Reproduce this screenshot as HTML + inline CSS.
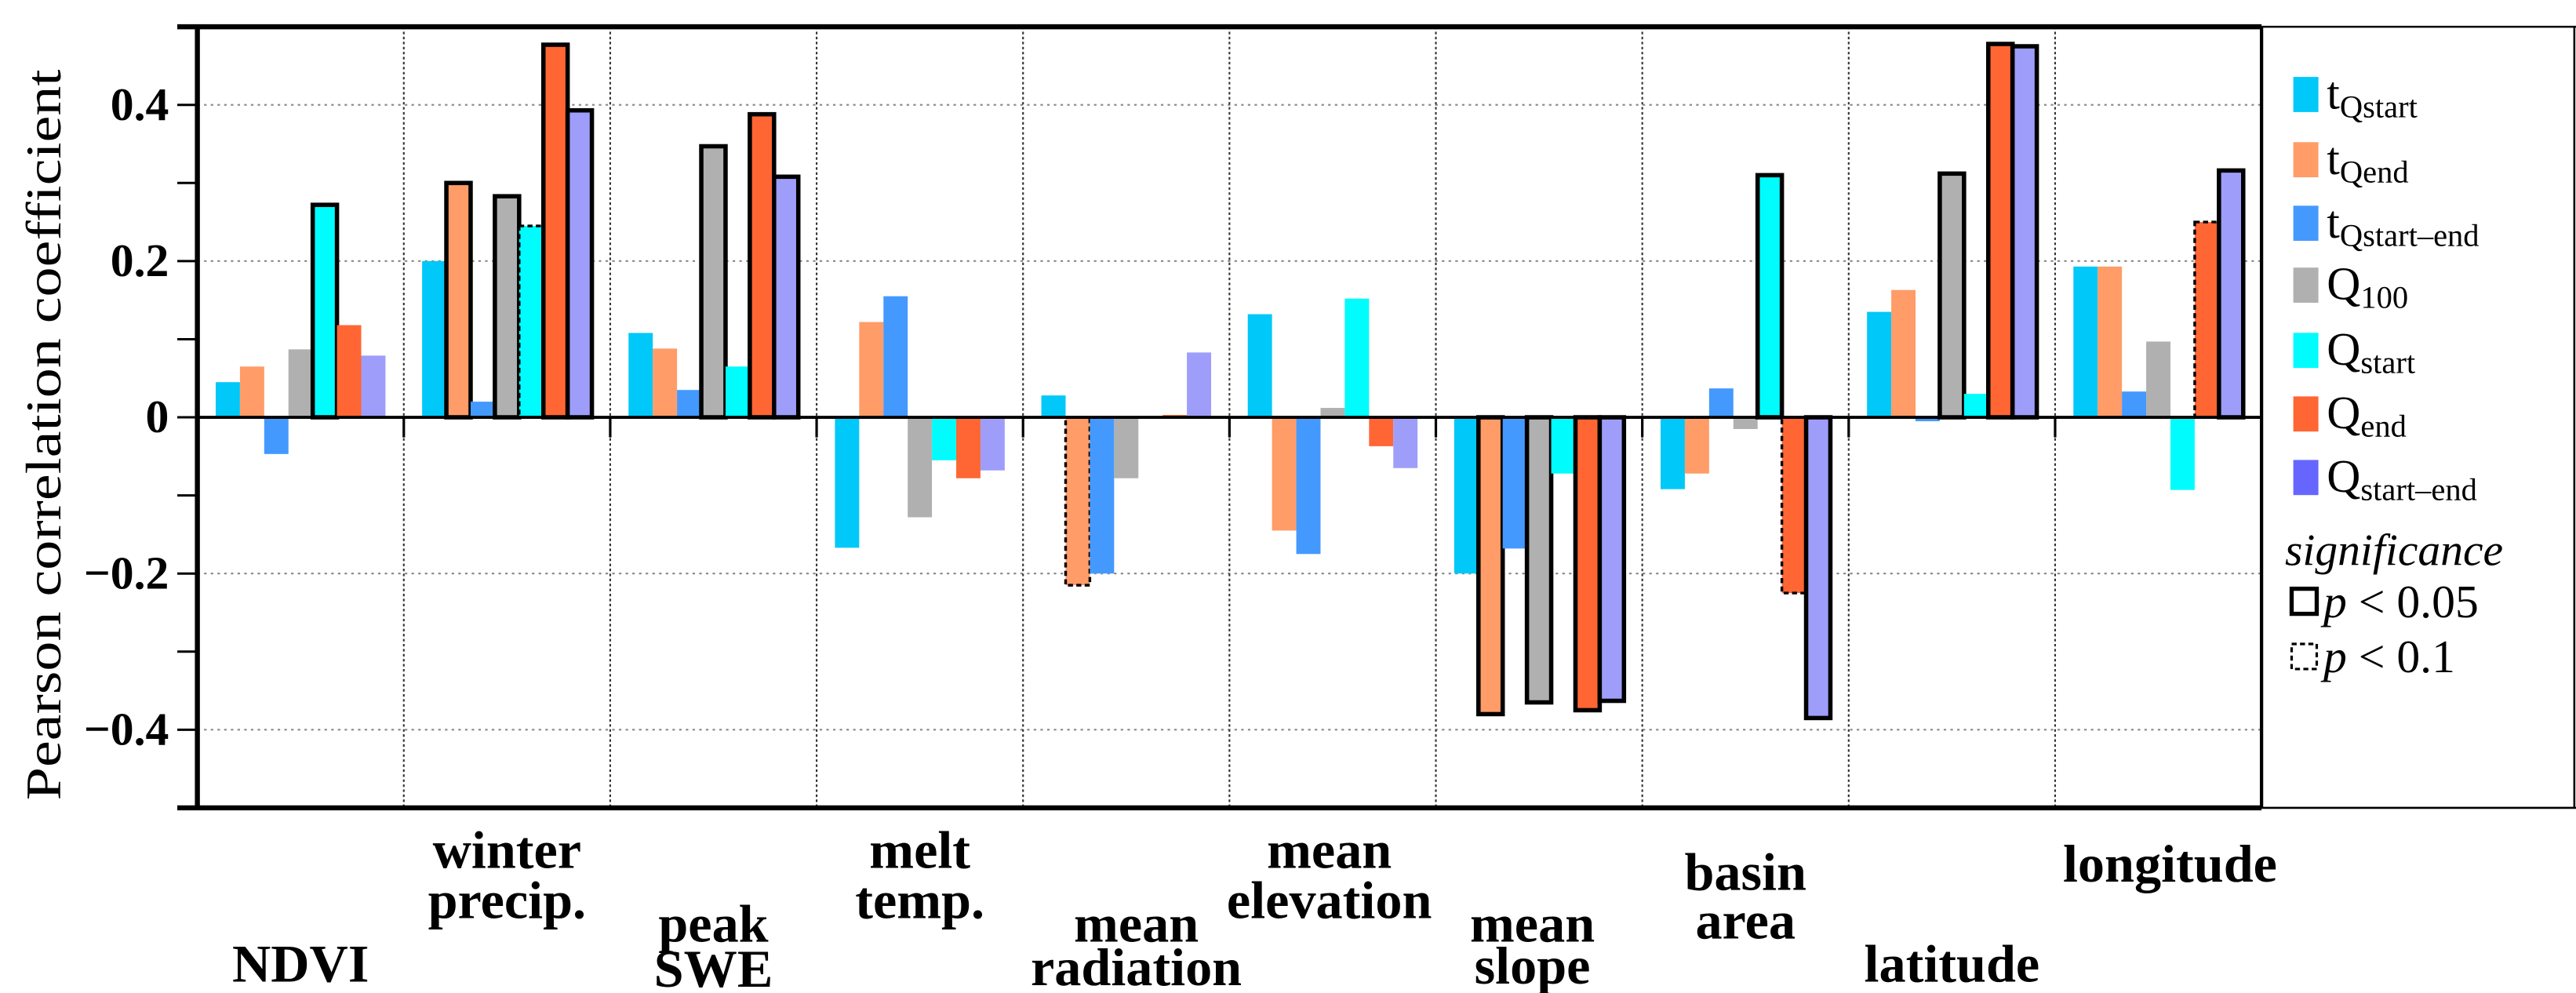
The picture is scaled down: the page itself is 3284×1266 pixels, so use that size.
<!DOCTYPE html>
<html><head><meta charset="utf-8"><style>
html,body{margin:0;padding:0;background:#fff;}
svg{display:block;}
text{font-family:"Liberation Serif",serif;}
</style></head><body>
<svg id="chart" width="3284" height="1266" viewBox="0 0 1540 593.7" preserveAspectRatio="none" xmlns="http://www.w3.org/2000/svg">
<g id="grid"></g>
<g id="bars"></g>
<g id="axes"></g>
<g id="labels"></g>
<g id="legend"></g>
</svg>
<script>
const categories = ["NDVI","winter precip.","peak SWE","melt temp.","mean radiation","mean elevation","mean slope","basin area","latitude","longitude"];
const seriesNames = ["tQstart","tQend","tQstart-end","Q100","Qstart","Qend","Qstart-end"];
const tQstart   = [0.045,0.200,0.108,-0.167,0.028,0.132,-0.200,-0.092,0.135,0.193];
const tQend     = [0.065,0.300,0.088,0.122,-0.215,-0.145,-0.380,-0.072,0.163,0.193];
const tQse      = [-0.047,0.020,0.035,0.155,-0.200,-0.175,-0.168,0.037,-0.005,0.033];
const Q100      = [0.087,0.283,0.347,-0.128,-0.078,0.012,-0.365,-0.015,0.312,0.097];
const Qstart    = [0.272,0.245,0.065,-0.055,-0.002,0.152,-0.072,0.310,0.030,-0.093];
const Qend      = [0.118,0.477,0.388,-0.078,0.003,-0.037,-0.375,-0.225,0.478,0.250];
const Qse       = [0.079,0.393,0.308,-0.068,0.083,-0.065,-0.363,-0.385,0.475,0.316];
// significance: 2 = p<0.05, 1 = p<0.1, 0 = none
const sig_tQstart = [0,0,0,0,0,0,0,0,0,0];
const sig_tQend   = [0,2,0,0,1,0,2,0,0,0];
const sig_tQse    = [0,0,0,0,0,0,0,0,0,0];
const sig_Q100    = [0,2,2,0,0,0,2,0,2,0];
const sig_Qstart  = [2,1,0,0,0,0,0,2,0,0];
const sig_Qend    = [0,2,2,0,0,0,2,1,2,1];
const sig_Qse     = [0,2,2,0,0,0,2,2,2,2];
const yTicks = [0.4,0.2,0,-0.2,-0.4];
const yTickLabels = ["0.4","0.2","0","\u22120.2","\u22120.4"];

const series = [tQstart,tQend,tQse,Q100,Qstart,Qend,Qse];
const sigs = [sig_tQstart,sig_tQend,sig_tQse,sig_Q100,sig_Qstart,sig_Qend,sig_Qse];
const colors = ["#00c8f8","#ff9c68","#4499ff","#b0b0b0","#00fcfc","#ff6633","#9e9efa"];
const legendColors = ["#00c8f8","#ff9c68","#4499ff","#b0b0b0","#00fcfc","#ff6633","#6666ff"];
const NS="http://www.w3.org/2000/svg";
const L=118,R=1352,T=16,B=483,YMAX=0.5,YMIN=-0.5;
function y(v){return T+(YMAX-v)/(YMAX-YMIN)*(B-T);}
const gw=(R-L)/categories.length;
function gx(i){return L+i*gw;}
function mk(tag,attrs,parent){const e=document.createElementNS(NS,tag);for(const k in attrs)e.setAttribute(k,attrs[k]);parent.appendChild(e);return e;}
const grid=document.getElementById('grid'),bars=document.getElementById('bars'),axes=document.getElementById('axes'),labels=document.getElementById('labels'),legend=document.getElementById('legend');

// grid
yTicks.forEach(v=>{if(v!==0){const l=mk('line',{x1:L,x2:R,y1:y(v),y2:y(v),stroke:'#888','stroke-width':1,'stroke-dasharray':'1.5,2.5'},grid);

}});
for(let i=1;i<categories.length;i++){const l=mk('line',{x1:gx(i),x2:gx(i),y1:T,y2:B,stroke:'#333','stroke-width':1,'stroke-dasharray':'1.5,1.5'},grid);

}

// bars
const bw=14.5, off=(gw-bw*7)/2;
categories.forEach((c,i)=>{series.forEach((s,k)=>{
  const v=s[i], x=gx(i)+off+k*bw, y0=y(0), y1=y(v);
  const r=mk('rect',{x:x,y:Math.min(y0,y1),width:bw,height:Math.max(0.8,Math.abs(y1-y0)),fill:colors[k]},bars);
  
  
  const sg=sigs[k][i];
  if(sg>0){r.setAttribute('stroke','#000');r.setAttribute('stroke-width',sg===2?2.6:1.6);if(sg===1)r.setAttribute('stroke-dasharray','3,2');}
});});

// axes
const zl=mk('line',{x1:L,x2:R,y1:y(0),y2:y(0),stroke:'#000','stroke-width':1.8},axes);


const frame=[[L-12,T,R,T,3],[L-12,B,R,B,3],[L,T,L,B,3],[R,T,R,B,2],[R,T,1540,T,1.2],[R,B,1540,B,1.2],[1539,T,1539,B,1.2]];
frame.forEach(f=>{const l=mk('line',{x1:f[0],y1:f[1],x2:f[2],y2:f[3],stroke:'#000','stroke-width':f[4]},axes);

});
for(let v=-0.4;v<=0.4001;v+=0.1){const l=mk('line',{x1:L-12,x2:L,y1:y(v),y2:y(v),stroke:'#000','stroke-width':1.4},axes);

}
for(let i=1;i<categories.length;i++){const l=mk('line',{x1:gx(i),x2:gx(i),y1:y(0),y2:y(0)+12,stroke:'#000','stroke-width':1.5},axes);

}
yTicks.forEach((v,i)=>{const t=mk('text',{x:101,y:y(v)+9,'text-anchor':'end','font-size':28,'font-weight':'bold'},axes);t.textContent=yTickLabels[i];

});
const yt=mk('text',{x:0,y:0,'text-anchor':'middle','font-size':30,textLength:437,lengthAdjust:'spacingAndGlyphs',transform:'translate(36,260) rotate(-90)'},axes);yt.textContent='Pearson correlation coefficient';



// category labels
const labLines=[["NDVI"],["winter","precip."],["peak","SWE"],["melt","temp."],["mean","radiation"],["mean","elevation"],["mean","slope"],["basin","area"],["latitude"],["longitude"]];
const labY=[[587],[519,549],[563,590],[519,549],[563,589],[519,549],[563,588],[532,561],[587],[527]];
const labDx=[0,0,0,0,6,-2,-4,0,0,7];
labLines.forEach((ls,i)=>{ls.forEach((s,j)=>{const t=mk('text',{x:gx(i)+gw/2+labDx[i],y:labY[i][j],'text-anchor':'middle','font-size':32,'font-weight':'bold'},labels);t.textContent=s;

});});

// legend
const legMain=["t","t","t","Q","Q","Q","Q"];
const legSub=["Qstart","Qend","Qstart\u2013end","100","start","end","start\u2013end"];
const legY=[56,95,133,170,209,247,285];
legMain.forEach((m,k)=>{
  const r=mk('rect',{x:1371,y:legY[k]-10,width:15,height:21,fill:legendColors[k]},legend);
  
  
  const t=mk('text',{x:1391,y:legY[k]+9,'font-size':28},legend);
  
  
  const a=document.createElementNS(NS,'tspan');a.textContent=m;t.appendChild(a);
  const b=document.createElementNS(NS,'tspan');b.setAttribute('font-size',19);b.setAttribute('dy',5);b.textContent=legSub[k];t.appendChild(b);
});
const sgT=mk('text',{x:1366,y:338,'font-size':27,'font-style':'italic'},legend);sgT.textContent='significance';


const s1=mk('rect',{x:1370,y:352,width:15,height:15,fill:'none',stroke:'#000','stroke-width':2.5},legend);


const s2=mk('rect',{x:1370,y:385,width:15,height:15,fill:'none',stroke:'#000','stroke-width':1.5,'stroke-dasharray':'3,2'},legend);


const p1=mk('text',{x:1389,y:369,'font-size':28},legend);p1.innerHTML='<tspan font-style="italic">p</tspan> &lt; 0.05';


const p2=mk('text',{x:1389,y:402,'font-size':28},legend);p2.innerHTML='<tspan font-style="italic">p</tspan> &lt; 0.1';


</script>
</body></html>
